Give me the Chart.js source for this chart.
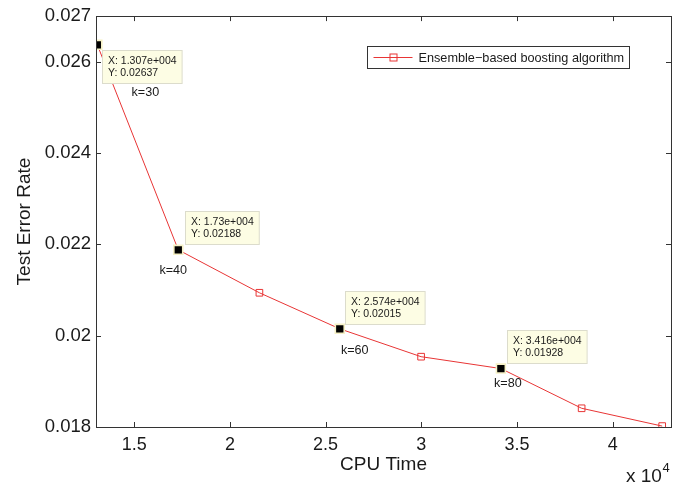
<!DOCTYPE html>
<html>
<head>
<meta charset="utf-8">
<script src="https://cdn.jsdelivr.net/npm/chart.js@4/dist/chart.umd.min.js"></script>
<style>
  html, body { margin: 0; padding: 0; background: #fff; }
  #wrap { width: 695px; height: 485px; }
</style>
</head>
<body>
<div id="wrap"><canvas id="c" width="695" height="485"></canvas></div>
<script>
// ---- data ----
const cpuTime   = [13070, 17300, 21540, 25740, 29990, 34160, 38380, 42590];
const testError = [0.02637, 0.02188, 0.02094, 0.02015, 0.01954, 0.01928, 0.01841, 0.01802];
const xTicks = [15000, 20000, 25000, 30000, 35000, 40000];
const yTicks = [0.018, 0.020, 0.022, 0.024, 0.026, 0.027];
const tipIndex   = [0, 1, 3, 5];
const tipXLabels = ['1.307e+004', '1.73e+004', '2.574e+004', '3.416e+004'];
const tipYLabels = ['0.02637', '0.02188', '0.02015', '0.01928'];
const kLabels    = ['k=30', 'k=40', 'k=60', 'k=80'];
const seriesName = 'Ensemble\u2212based boosting algorithm';
const xTitle = 'CPU Time';
const yTitle = 'Test Error Rate';
const xExponent = '4';

// ---- styles ----
const FONT = '"Liberation Sans", Arial, Helvetica, sans-serif';
const TEXT = '#1a1a1a';
const AXIS = '#333333';
const RED = '#e83535';
const tipBoxOffset = [[4.6, 5], [6.7, -38.5], [5, -38], [6, -39]];
const kOffset = [[48, 48], [-5, 20.5], [15, 22], [7, 15]];

const points = cpuTime.map((x, i) => ({ x: x, y: testError[i] }));
const isTip = i => tipIndex.indexOf(i) >= 0;

const overlay = {
  id: 'overlay',
  afterDatasetsDraw(chart) {
    const ctx = chart.ctx;
    const a = chart.chartArea;
    const xs = chart.scales.x, ys = chart.scales.y;
    ctx.save();
    // frame
    ctx.strokeStyle = AXIS; ctx.lineWidth = 1;
    ctx.strokeRect(Math.round(a.left) + 0.5, Math.round(a.top) + 0.5,
                   Math.round(a.right - a.left), Math.round(a.bottom - a.top));
    // inward ticks
    const TL = 5;
    ctx.beginPath();
    xTicks.forEach(v => {
      const px = Math.round(xs.getPixelForValue(v)) + 0.5;
      ctx.moveTo(px, a.bottom); ctx.lineTo(px, a.bottom - TL);
      ctx.moveTo(px, a.top); ctx.lineTo(px, a.top + TL);
    });
    yTicks.forEach(v => {
      const py = Math.round(ys.getPixelForValue(v)) + 0.5;
      ctx.moveTo(a.left, py); ctx.lineTo(a.left + TL, py);
      ctx.moveTo(a.right, py); ctx.lineTo(a.right - TL, py);
    });
    ctx.stroke();

    // data tips
    ctx.font = '10.5px ' + FONT;
    ctx.textBaseline = 'middle';
    tipIndex.forEach((idx, j) => {
      const px = xs.getPixelForValue(cpuTime[idx]);
      const py = ys.getPixelForValue(testError[idx]);
      const l1 = 'X: ' + tipXLabels[j], l2 = 'Y: ' + tipYLabels[j];
      const w = Math.max(ctx.measureText(l1).width, ctx.measureText(l2).width) + 11;
      const h = 33;
      const bx = Math.round(px + tipBoxOffset[j][0]) + 0.5;
      const by = Math.round(py + tipBoxOffset[j][1]) + 0.5;
      ctx.fillStyle = '#fdfde4';
      ctx.fillRect(bx, by, w, h);
      ctx.strokeStyle = '#dcdccc';
      ctx.strokeRect(bx, by, w, h);
      ctx.fillStyle = TEXT;
      ctx.textAlign = 'left';
      ctx.fillText(l1, bx + 5.5, by + 10.5);
      ctx.fillText(l2, bx + 5.5, by + 23);
    });

    // k labels
    ctx.font = '12.6px ' + FONT;
    ctx.textAlign = 'center';
    tipIndex.forEach((idx, j) => {
      const px = xs.getPixelForValue(cpuTime[idx]);
      const py = ys.getPixelForValue(testError[idx]);
      ctx.fillStyle = TEXT;
      ctx.fillText(kLabels[j], px + kOffset[j][0], py + kOffset[j][1]);
    });

    // legend
    const lx = 367.5, ly = 46.5, lw = 262, lh = 22;
    ctx.fillStyle = '#fff';
    ctx.fillRect(lx, ly, lw, lh);
    ctx.strokeStyle = AXIS; ctx.lineWidth = 1;
    ctx.strokeRect(lx, ly, lw, lh);
    const cy = ly + lh / 2;
    ctx.strokeStyle = RED;
    ctx.beginPath(); ctx.moveTo(lx + 6, cy); ctx.lineTo(lx + 45, cy); ctx.stroke();
    ctx.strokeRect(lx + 22.5, cy - 3.5, 7, 7);
    ctx.fillStyle = TEXT;
    ctx.textAlign = 'left';
    ctx.font = '12.7px ' + FONT;
    ctx.fillText(seriesName, lx + 51, cy + 0.5);

    // x 10^4
    ctx.font = '19px ' + FONT;
    ctx.fillText('x 10', 626, 477);
    const w10 = ctx.measureText('x 10').width;
    ctx.font = '13px ' + FONT;
    ctx.fillText(xExponent, 626 + w10 + 0.5, 468);
    ctx.restore();
  }
};

new Chart(document.getElementById('c'), {
  type: 'line',
  data: {
    datasets: [{
      label: seriesName,
      data: points,
      borderColor: RED,
      borderWidth: 1,
      tension: 0,
      fill: false,
      pointStyle: 'rect',
      pointRadius: c => isTip(c.dataIndex) ? 6.3 : 4.7,
      pointBackgroundColor: c => isTip(c.dataIndex) ? '#000000' : 'rgba(0,0,0,0)',
      pointBorderColor: c => isTip(c.dataIndex) ? '#f6f1c6' : RED,
      pointBorderWidth: c => isTip(c.dataIndex) ? 1.6 : 1,
    }]
  },
  options: {
    responsive: false,
    animation: false,
    layout: { padding: { top: 13, right: 24, left: 0, bottom: 0 } },
    plugins: { legend: { display: false }, tooltip: { enabled: false } },
    scales: {
      x: {
        type: 'linear',
        min: 13000, max: 43050,
        afterBuildTicks: s => { s.ticks = xTicks.map(v => ({ value: v })); },
        afterFit: s => { s.height = 58; },
        grid: { display: false, drawTicks: false },
        border: { display: false },
        ticks: {
          padding: 7,
          color: TEXT,
          font: { family: FONT, size: 18 },
          callback: v => String(Number((v / 1e4).toFixed(2)))
        },
        title: { display: true, text: xTitle, color: TEXT,
                 font: { family: FONT, size: 19 }, padding: { top: 0, bottom: 8.6 } }
      },
      y: {
        type: 'linear',
        min: 0.018, max: 0.027,
        afterBuildTicks: s => { s.ticks = yTicks.map(v => ({ value: v })); },
        afterFit: s => { s.width = 96; },
        grid: { display: false, drawTicks: false },
        border: { display: false },
        ticks: {
          padding: 5,
          color: TEXT,
          font: { family: FONT, size: 18.5 },
          callback: v => String(Number(v.toFixed(3)))
        },
        title: { display: true, text: yTitle, color: TEXT,
                 font: { family: FONT, size: 19 }, padding: { top: 13, bottom: 0 } }
      }
    }
  },
  plugins: [overlay]
});
</script>
</body>
</html>
